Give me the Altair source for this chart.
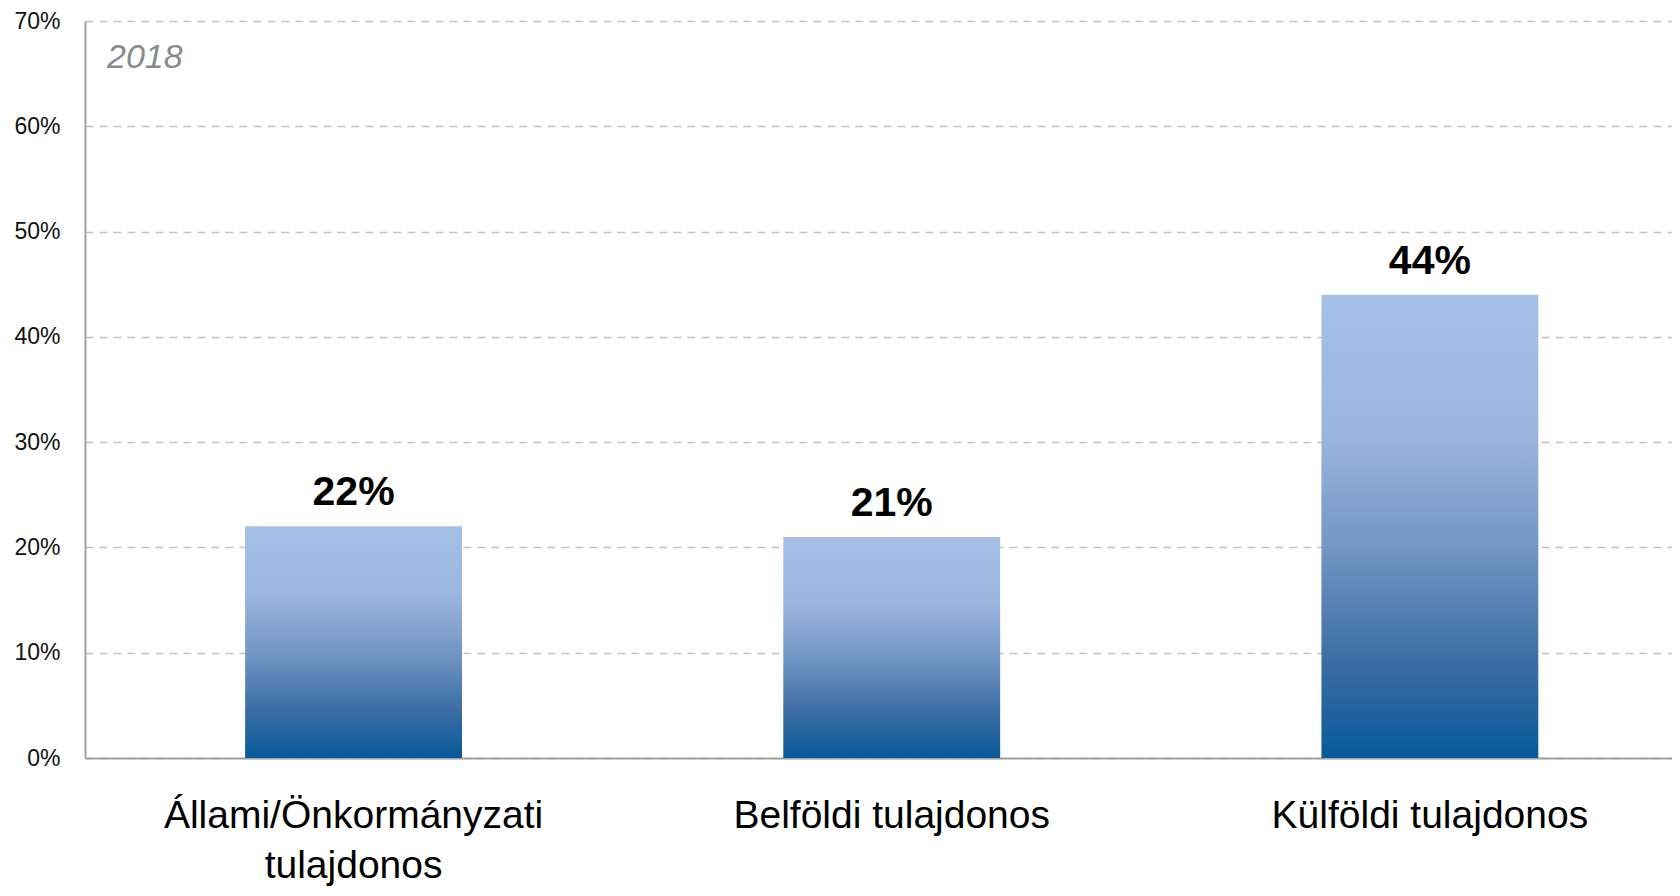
import altair as alt
import pandas as pd

categories = ["Állami/Önkormányzati tulajdonos", "Belföldi tulajdonos", "Külföldi tulajdonos"]
values = [0.22, 0.21, 0.44]
y_ticks = [0, 0.1, 0.2, 0.3, 0.4, 0.5, 0.6, 0.7]
year_label = "2018"

df = pd.DataFrame({"cat": categories, "val": values})

FONT = "Liberation Sans"

x_enc = alt.X(
    "cat:N",
    sort=categories,
    scale=alt.Scale(paddingInner=0.597, paddingOuter=0.273, align=0.545),
    axis=alt.Axis(
        title=None,
        labelAngle=0,
        labelFont=FONT,
        labelFontSize=39,
        labelColor="#000000",
        labelPadding=38,
        labelBaseline="top",
        labelLineHeight=50,
        labelLimit=600,
        labelExpr="datum.label == 'Állami/Önkormányzati tulajdonos' ? ['Állami/Önkormányzati', 'tulajdonos'] : datum.label",
        ticks=False,
        domain=True,
        domainColor="#a0a0a0",
        domainWidth=2,
        grid=False,
    ),
)

y_scale = alt.Scale(domain=[0, 0.7], nice=False)

bars = alt.Chart(df).mark_bar(
    color=alt.Gradient(
        gradient="linear",
        x1=0, y1=0, x2=0, y2=1,
        stops=[
            alt.GradientStop(color="#A5C0E6", offset=0),
            alt.GradientStop(color="#9AB6DF", offset=0.3),
            alt.GradientStop(color="#7295C4", offset=0.55),
            alt.GradientStop(color="#3A6CA3", offset=0.8),
            alt.GradientStop(color="#08599A", offset=1),
        ],
    )
).encode(
    x=x_enc,
    y=alt.Y(
        "val:Q",
        scale=y_scale,
        axis=alt.Axis(
            title=None,
            values=y_ticks,
            format=".0%",
            labelFont=FONT,
            labelFontSize=23,
            labelColor="#111111",
            labelPadding=25,
            ticks=False,
            domain=True,
            domainColor="#a0a0a0",
            domainWidth=2,
            grid=True,
            gridColor="#c4c4c4",
            gridDash=[8, 6],
            gridWidth=1.5,
        ),
    ),
)

labels = alt.Chart(df).mark_text(
    font=FONT,
    fontSize=41,
    fontWeight="bold",
    color="#000000",
    baseline="alphabetic",
    dy=-21,
).encode(
    x=alt.X("cat:N", sort=categories),
    y=alt.Y("val:Q", scale=y_scale),
    text=alt.Text("val:Q", format=".0%"),
)

year = alt.Chart(pd.DataFrame({"t": [year_label]})).mark_text(
    font=FONT,
    fontSize=34,
    fontStyle="italic",
    color="#8a8a8a",
    align="left",
    baseline="alphabetic",
).encode(
    x=alt.value(22),
    y=alt.value(47),
    text="t:N",
)

chart = alt.layer(bars, labels, year).properties(
    width=1587,
    height=737,
    autosize=alt.AutoSizeParams(type="none"),
    padding={"left": 77, "top": 13, "right": 0, "bottom": 128},
).configure_view(stroke=None)

chart.save("out.html", embed_options={"renderer": "svg", "actions": False})
